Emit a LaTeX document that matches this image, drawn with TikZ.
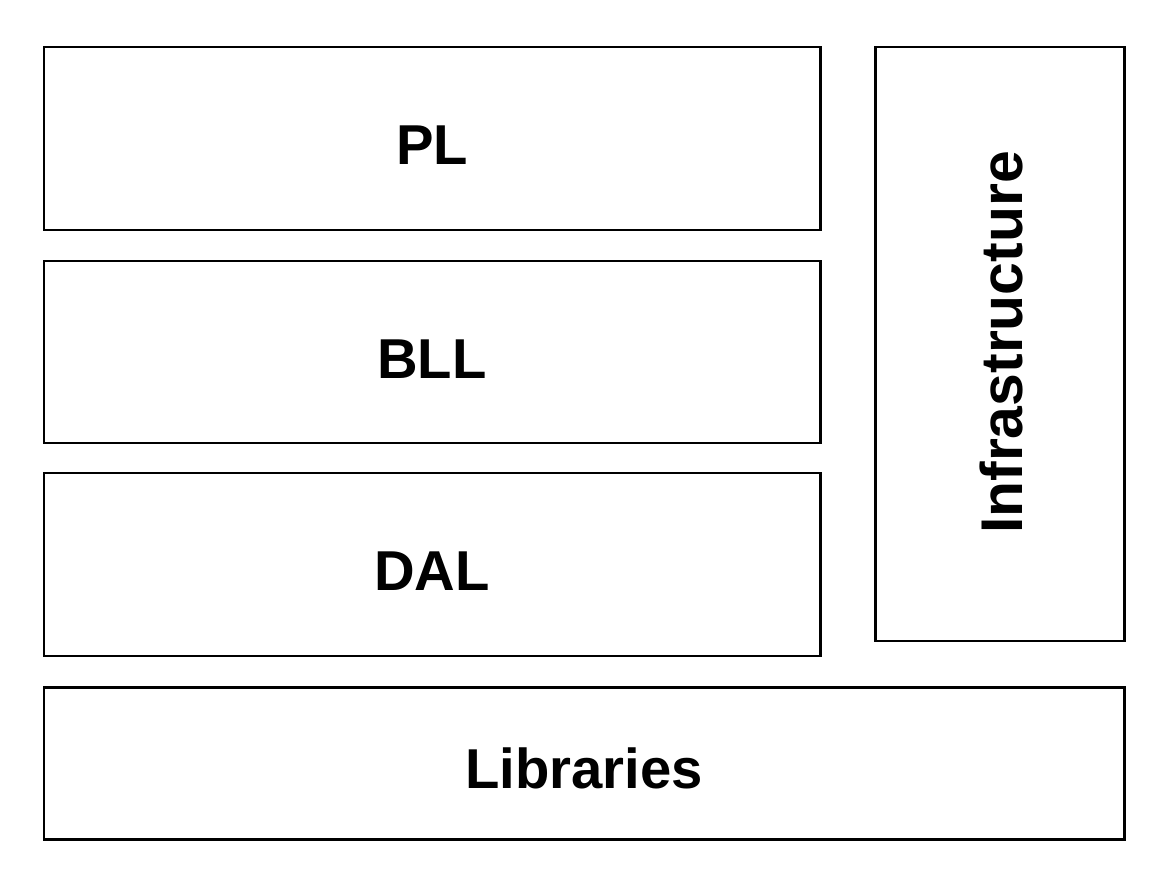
\documentclass[tikz,border=0pt]{standalone}
\usepackage{fontspec}
\setmainfont{Liberation Sans}
\usepackage{xcolor}
\usepackage{tikz}
\usetikzlibrary{positioning}
\tikzstyle{layer} = [
    rectangle,
    draw=black,
    line width=1.7pt,
    text centered,
    inner sep=0pt,
    text height=1.05cm,
    font=\fontsize{32}{38}\selectfont\bfseries
]

\begin{document}
\begin{tikzpicture}
        \useasboundingbox (0, 0) rectangle (23.36, -17.76);
        % Layers
        \node[layer, minimum width=15.52cm, minimum height=3.66cm] (pl) at (8.64, -2.77) {PL};
        \node[layer, minimum width=15.52cm, minimum height=3.64cm] (bll) at (8.64, -7.04) {BLL};
        \node[layer, minimum width=15.52cm, minimum height=3.66cm] (dal) at (8.64, -11.29) {DAL};
        \node[layer, minimum width=4.98cm, minimum height=11.88cm] (infra) at (19.99, -6.88) {};
        \node[rotate=90, inner sep=0pt, font=\fontsize{33.5}{40}\selectfont\bfseries] (infralabel) at ([xshift=0.04cm, yshift=0.03cm]infra.center) {Infrastructure};
        \node[layer, minimum width=21.6cm, minimum height=3.04cm] (libs) at (11.68, -15.26) {Libraries};
    \end{tikzpicture}
\end{document}
